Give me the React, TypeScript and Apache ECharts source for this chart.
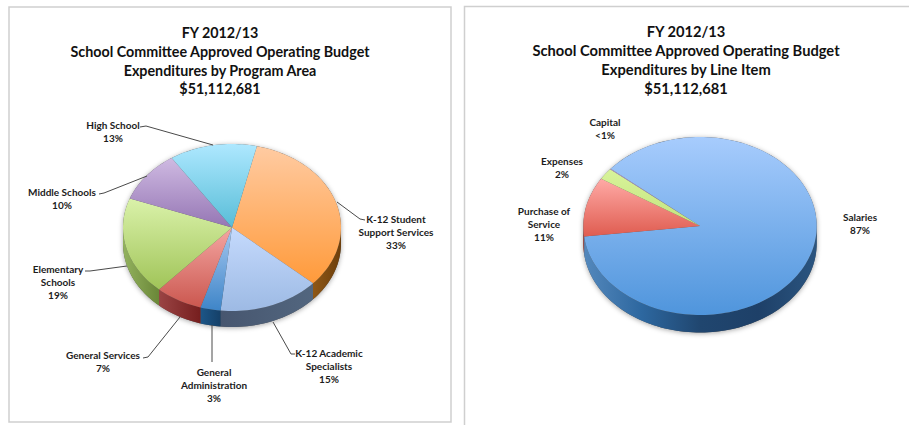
import React, { useEffect, useRef } from "react";
import * as echarts from "echarts";

// ---- data ----
const titleLeft = "FY 2012/13\nSchool Committee Approved Operating Budget\nExpenditures by Program Area\n$51,112,681";
const titleRight = "FY 2012/13\nSchool Committee Approved Operating Budget\nExpenditures by Line Item\n$51,112,681";

const programCategories = [
  "K-12 Student\nSupport Services",
  "K-12 Academic\nSpecialists",
  "General\nAdministration",
  "General Services",
  "Elementary\nSchools",
  "Middle Schools",
  "High School",
];
const programValues = [33, 15, 3, 7, 19, 10, 13];
const programLabels = ["33%", "15%", "3%", "7%", "19%", "10%", "13%"];

const lineItemCategories = ["Salaries", "Purchase of\nService", "Expenses", "Capital"];
const lineItemValues = [87, 10.8, 2.1, 0.1];
const lineItemLabels = ["87%", "11%", "2%", "<1%"];

// ---- styles and layout ----
const FONT = "Lato";
const programStyle = [
  { top: ["#FFCBA2", "#FF9A3A"], side: ["#8E5716", "#6C3E0B"], label: [396, 232], line: [[337, 202], [360, 219], [365, 220]] },
  { top: ["#C5DAFD", "#9DBAE4"], side: ["#47566F", "#52667F"], label: [329, 366], line: [[273, 322], [291, 354], [295, 354]] },
  { top: ["#A6C8F0", "#3E85C8"], side: ["#1C5688", "#154068"], label: [214, 385], line: [[212, 325], [212, 362]] },
  { top: ["#F4A6A2", "#CB574F"], side: ["#9A4444", "#761E1E"], label: [103, 361.5], line: [[180, 317], [148, 357], [143, 358]] },
  { top: ["#DAF2AA", "#A0C458"], side: ["#93B25E", "#6A8738"], label: [58, 282], line: [[127, 266], [90, 271], [85, 271]] },
  { top: ["#CFBAE2", "#9576B4"], side: ["#6B5A85", "#6B5A85"], label: [62, 198.5], line: [[147, 176], [104, 193], [99, 194]] },
  { top: ["#AEE8FF", "#58BDD7"], side: ["#3E8AA0", "#3E8AA0"], label: [113, 131.5], line: [[213, 145], [146, 126], [140, 127]] },
];
const lineItemStyle = [
  { top: ["#A7CCFD", "#4F95DC"], side: ["#5488BC", "#2D679F", "#20466F", "#1E4068", "#2B5580"], label: [860, 223], line: null },
  { top: ["#FFAAA6", "#DF5C50"], side: ["#A33B35", "#A33B35"], label: [544, 224], line: null },
  { top: ["#D8F39A", "#C4E47E"], side: ["#7E9A45", "#7E9A45"], label: [562, 167.5], line: null },
  { top: ["#BFA6DA", "#A58BC6"], side: ["#5F4C7A", "#5F4C7A"], label: [605, 128.5], line: null },
];

const arcPoints = (cx: number, cy: number, rx: number, ry: number, a0: number, a1: number) => {
  const pts: number[][] = [];
  const n = Math.max(2, Math.ceil((a1 - a0) / 2));
  for (let i = 0; i <= n; i++) {
    const a = ((a0 + ((a1 - a0) * i) / n) * Math.PI) / 180;
    pts.push([cx + rx * Math.sin(a), cy - ry * Math.cos(a)]);
  }
  return pts;
};

const pieSeries = (
  name: string,
  cats: string[],
  values: number[],
  labels: string[],
  styles: any[],
  g: { cx: number; cy: number; rx: number; ry: number; depth: number; start: number }
) => {
  const total = values.reduce((s, v) => s + v, 0);
  const { cx, cy, rx, ry, depth, start } = g;
  const bbox = (pts: number[][]) => {
    const xs = pts.map((p) => p[0]);
    const ys = pts.map((p) => p[1]);
    return { x0: Math.min(...xs), x1: Math.max(...xs), y0: Math.min(...ys), y1: Math.max(...ys) };
  };
  return {
    type: "custom",
    name,
    coordinateSystem: "none",
    silent: true,
    data: values.map((v) => [v]),
    renderItem: (params: any, api: any) => {
      const i = params.dataIndex;
      const st = styles[i];
      const before = values.slice(0, i).reduce((s, v) => s + v, 0);
      const a0 = start + (before / total) * 360;
      const a1 = a0 + (api.value(0) / total) * 360;
      const children: any[] = [];

      if (i === 0) {
        const whole = arcPoints(cx, cy, rx, ry, 90, 270).map((p) => [p[0], p[1] + depth]);
        const base = [...arcPoints(cx, cy, rx, ry, -90, 90), ...whole];
        children.push({
          type: "polygon",
          shape: { points: base },
          style: { fill: "#555", shadowBlur: 5, shadowColor: "rgba(0,0,0,0.35)", shadowOffsetY: 1 },
        });
      }

      // visible front wall: the part of the slice between 90 and 270 degrees
      for (const k of [0, 360]) {
        const s0 = Math.max(a0 - k, 90);
        const s1 = Math.min(a1 - k, 270);
        if (s1 > s0) {
          const up = arcPoints(cx, cy, rx, ry, s0, s1);
          const down = up.map((p) => [p[0], p[1] + depth]).reverse();
          const b = bbox(up);
          const n = st.side.length - 1;
          children.push({
            type: "polygon",
            shape: { points: [...up, ...down] },
            style: {
              fill: new echarts.graphic.LinearGradient(
                b.x0, 0, b.x1, 0,
                st.side.map((c: string, j: number) => ({ offset: j / n, color: c })),
                true
              ),
            },
          });
        }
      }

      // top face
      const arc = arcPoints(cx, cy, rx, ry, a0, a1);
      const pts = [[cx, cy], ...arc];
      const b = bbox(pts);
      children.push({
        type: "polygon",
        shape: { points: pts },
        style: {
          fill: new echarts.graphic.LinearGradient(
            0, b.y0, 0, b.y1,
            [{ offset: 0, color: st.top[0] }, { offset: 1, color: st.top[1] }],
            true
          ),
        },
      });

      if (st.line) {
        children.push({
          type: "polyline",
          shape: { points: st.line },
          style: { stroke: "#4a4a4a", lineWidth: 1, fill: "none" },
        });
      }
      children.push({
        type: "text",
        style: {
          text: `${cats[i]}\n${labels[i]}`,
          x: st.label[0],
          y: st.label[1],
          align: "center",
          verticalAlign: "middle",
          fill: "#1c1c1c",
          font: `bold 10px ${FONT}`,
          lineHeight: 13,
        },
      });
      return { type: "group", children };
    },
  };
};

export default function App() {
  const ref = useRef<HTMLDivElement>(null);
  useEffect(() => {
    const chart = echarts.init(ref.current!, null, { renderer: "svg" });
    const titleStyle = (fontSize: number, lineHeight: number) => ({
      fontFamily: FONT,
      fontWeight: "bold" as const,
      fontSize,
      lineHeight,
      color: "#111",
      align: "center" as const,
    });
    chart.setOption({
      animation: false,
      backgroundColor: "#fff",
      title: [
        { text: titleLeft, left: 220, top: 23.5, textAlign: "center", padding: 0, textStyle: titleStyle(14.3, 18.6) },
        { text: titleRight, left: 686, top: 21.5, textAlign: "center", padding: 0, textStyle: titleStyle(14.7, 19) },
      ],
      graphic: [
        { type: "rect", silent: true, shape: { x: 9, y: 7, width: 442, height: 415 }, style: { fill: "none", stroke: "#cfcfcf", lineWidth: 1.5 } },
        { type: "polyline", silent: true, shape: { points: [[464.5, 426], [464.5, 6.5], [910, 6.5]] }, style: { fill: "none", stroke: "#cfcfcf", lineWidth: 1.5 } },
      ],
      series: [
        pieSeries("Program Area", programCategories, programValues, programLabels, programStyle, {
          cx: 232, cy: 227.5, rx: 109, ry: 83.5, depth: 16, start: 13.2,
        }),
        pieSeries("Line Item", lineItemCategories, lineItemValues, lineItemLabels, lineItemStyle, {
          cx: 700, cy: 226, rx: 116.7, ry: 89, depth: 17.5, start: -50,
        }),
      ],
    });
    return () => chart.dispose();
  }, []);
  return <div ref={ref} style={{ position: "absolute", left: 0, top: 0, width: 909, height: 425 }} />;
}
